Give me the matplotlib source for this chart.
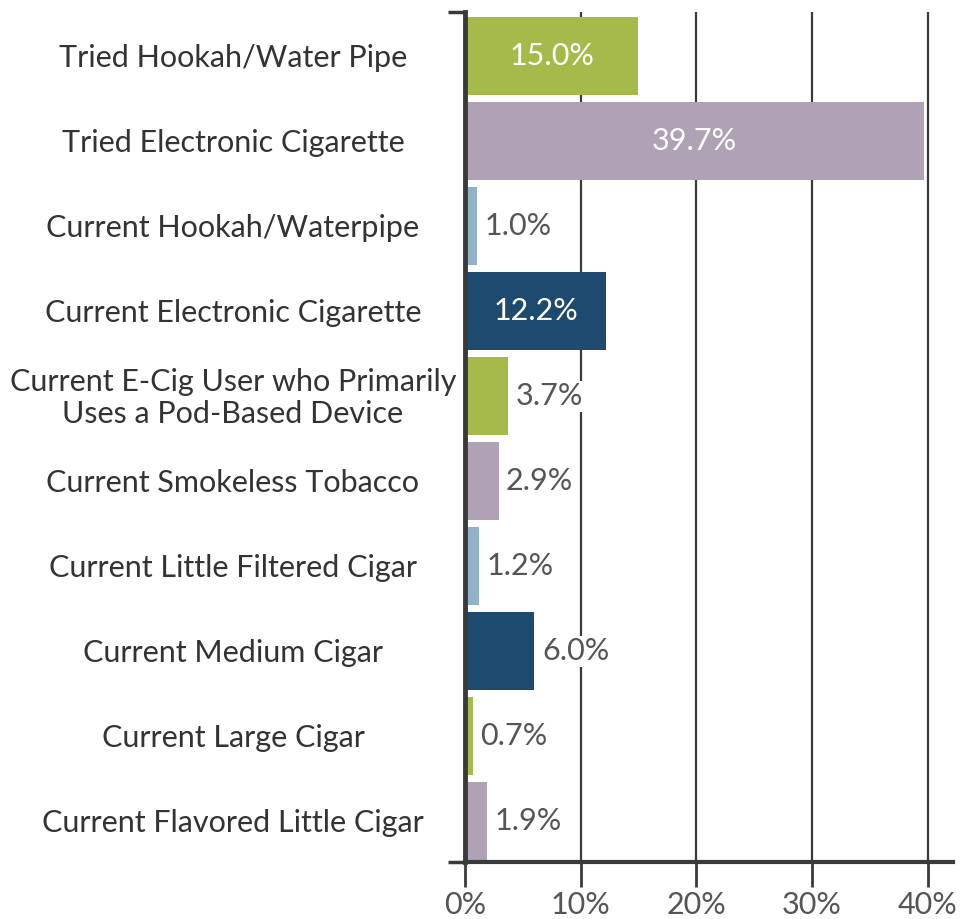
import matplotlib.pyplot as plt
from matplotlib.transforms import blended_transform_factory

# categories and values (percent)
categories = [
    'Tried Hookah/Water Pipe',
    'Tried Electronic Cigarette',
    'Current Hookah/Waterpipe',
    'Current Electronic Cigarette',
    'Current E-Cig User who Primarily\nUses a Pod-Based Device',
    'Current Smokeless Tobacco',
    'Current Little Filtered Cigar',
    'Current Medium Cigar',
    'Current Large Cigar',
    'Current Flavored Little Cigar',
]
values = [15.0, 39.7, 1.0, 12.2, 3.7, 2.9, 1.2, 6.0, 0.7, 1.9]
colors = ['#a5ba4a', '#afa2b4', '#92b2c8', '#1d4a6e',
          '#a5ba4a', '#afa2b4', '#92b2c8', '#1d4a6e',
          '#a5ba4a', '#afa2b4']
xticks = [0, 10, 20, 30, 40]
xticklabels = ['0%', '10%', '20%', '30%', '40%']

plt.rcParams['font.family'] = ['Lato', 'DejaVu Sans']

fig = plt.figure(figsize=(9.65, 9.19), dpi=100)
ax = fig.add_axes([465 / 965, 57 / 919, 488 / 965, 850 / 919])

ypos = list(range(len(categories)))
ax.barh(ypos, values, height=0.92, color=colors, zorder=2)

ax.set_xlim(0, 42.2)
ax.set_ylim(9.48, -0.52)

for x in xticks[1:]:
    ax.axvline(x, color='#3a3a3a', lw=1.6, zorder=1)

# value labels
for y, v in zip(ypos, values):
    lab = f'{v:.1f}%'
    if v > 10:
        ax.text(v / 2, y, lab, ha='center', va='center', color='white',
                fontsize=22, zorder=3)
    else:
        ax.text(v + 0.65, y, lab, ha='left', va='center', color='#555555',
                fontsize=22, zorder=3,
                bbox=dict(facecolor='white', edgecolor='none', pad=1))

# category labels, centered in the left margin
tr = blended_transform_factory(fig.transFigure, ax.transData)
for y, c in zip(ypos, categories):
    ax.text(233 / 965, y + 0.02, c, transform=tr, ha='center', va='center',
            color='#333333', fontsize=22, linespacing=1.2)

ax.set_yticks([])
ax.set_yticks([9.48, -0.52], minor=True)
ax.tick_params(axis='y', which='minor', length=12, width=2.5, color='#3a3a3a')
ax.set_xticks(xticks)
ax.set_xticklabels(xticklabels)
ax.tick_params(axis='x', length=18, width=2, color='#3a3a3a',
               labelsize=22, labelcolor='#555555', pad=3)

for s in ['top', 'right']:
    ax.spines[s].set_visible(False)
ax.spines['left'].set_color('#3a3a3a')
ax.spines['left'].set_linewidth(3.5)
ax.spines['left'].set_zorder(4)
ax.spines['bottom'].set_color('#3a3a3a')
ax.spines['bottom'].set_linewidth(3)

fig.savefig('out.png', dpi=100)
